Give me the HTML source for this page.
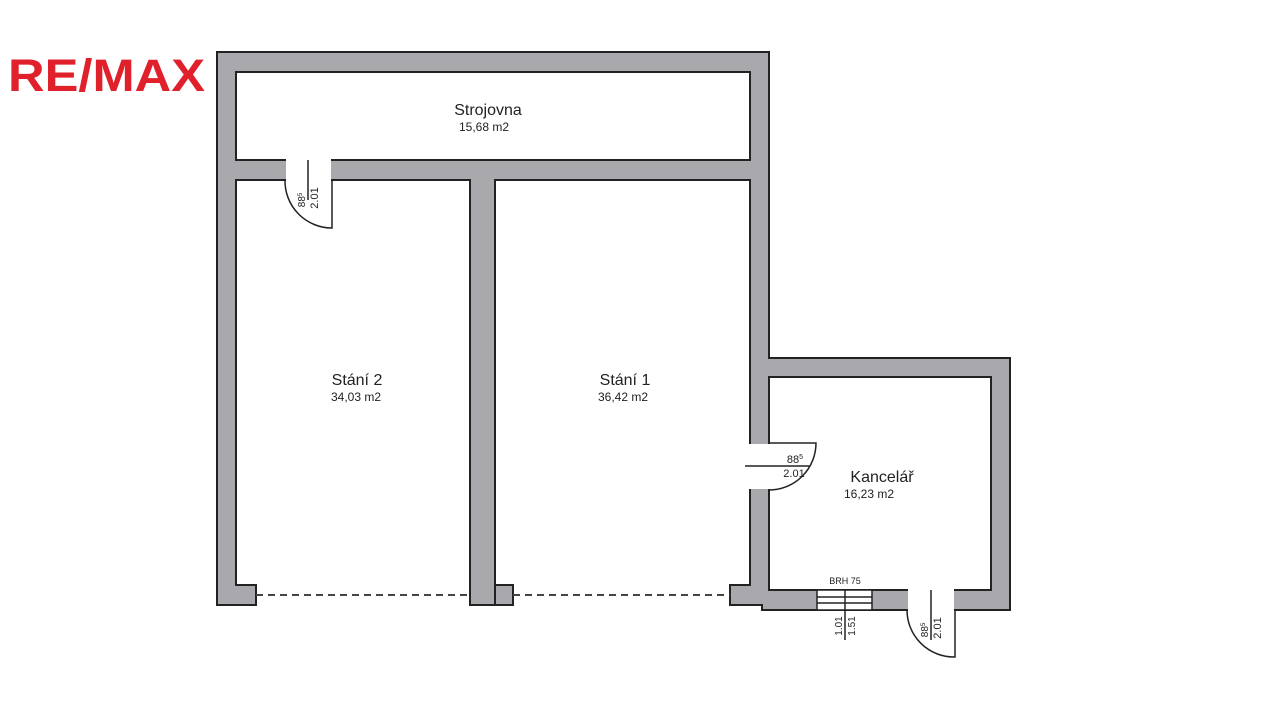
<!DOCTYPE html>
<html><head><meta charset="utf-8"><style>
body{margin:0;background:#fff;width:1280px;height:720px;overflow:hidden}
svg{position:absolute;left:0;top:0}
text{font-family:"Liberation Sans",sans-serif}
</style></head><body>
<svg width="1280" height="720" viewBox="0 0 1280 720">
<text x="8" y="91" font-size="45" font-weight="bold" fill="#e0202b" textLength="197" lengthAdjust="spacingAndGlyphs">RE/MAX</text>
<g stroke="#222" stroke-width="2">
<polygon points="217,52 769,52 769,358 1010,358 1010,610 762,610 762,605 217,605" fill="#a9a8ad"/>
<rect x="236" y="72" width="514" height="88" fill="#fff"/>
<polygon points="236,180 470,180 470,605 256,605 256,585 236,585" fill="#fff"/>
<polygon points="495,180 750,180 750,585 730,585 730,605 513,605 513,585 495,585" fill="#fff"/>
<rect x="769" y="377" width="222" height="213" fill="#fff"/>
</g>
<g fill="#fff">
<rect x="257" y="596" width="212" height="12"/>
<rect x="514" y="596" width="215" height="12"/>
<rect x="286" y="159" width="45" height="22"/>
<rect x="749" y="444" width="21" height="45"/>
<rect x="908" y="589" width="46" height="22"/>
</g>
<line x1="495" y1="585" x2="495" y2="605" stroke="#222" stroke-width="2"/>
<g stroke="#444" stroke-width="2" stroke-dasharray="7,5">
<line x1="256" y1="595" x2="470" y2="595"/>
<line x1="513" y1="595" x2="730" y2="595"/>
</g>
<g stroke="#222" stroke-width="1.5" fill="none">
<path d="M285,180 A47,47 0 0 0 332,228 L332,180"/>
<line x1="308" y1="160" x2="308" y2="200"/>
<path d="M769,443 L816,443 A47,47 0 0 1 769,490"/>
<line x1="745" y1="466" x2="810" y2="466"/>
<path d="M907,610 A47,47 0 0 0 955,657 L955,610"/>
<line x1="931" y1="590" x2="931" y2="640"/>
<rect x="817" y="590" width="55" height="20" fill="#fff"/>
<line x1="817" y1="597" x2="872" y2="597"/>
<line x1="817" y1="603" x2="872" y2="603"/>
<line x1="845" y1="590" x2="845" y2="640"/>
</g>
<g fill="#222">
<text x="488" y="115" font-size="16" text-anchor="middle">Strojovna</text>
<text x="484" y="131" font-size="12" text-anchor="middle">15,68 m2</text>
<text x="357" y="385" font-size="16" text-anchor="middle">Stání 2</text>
<text x="356" y="401" font-size="12" text-anchor="middle">34,03 m2</text>
<text x="625" y="385" font-size="16" text-anchor="middle">Stání 1</text>
<text x="623" y="401" font-size="12" text-anchor="middle">36,42 m2</text>
<text x="882" y="482" font-size="16" text-anchor="middle">Kancelář</text>
<text x="869" y="498" font-size="12" text-anchor="middle">16,23 m2</text>
<text x="845" y="584" font-size="9" text-anchor="middle">BRH 75</text>
<text x="795" y="463" font-size="11" text-anchor="middle">88<tspan font-size="7" dy="-4">5</tspan></text>
<text x="794" y="477" font-size="11" text-anchor="middle">2.01</text>
<text transform="translate(305,200) rotate(-90)" font-size="10" text-anchor="middle">88<tspan font-size="6" dy="-3">5</tspan></text>
<text transform="translate(318,198) rotate(-90)" font-size="11" text-anchor="middle">2.01</text>
<text transform="translate(928,630) rotate(-90)" font-size="10" text-anchor="middle">88<tspan font-size="6" dy="-3">5</tspan></text>
<text transform="translate(941,628) rotate(-90)" font-size="11" text-anchor="middle">2.01</text>
<text transform="translate(842,626) rotate(-90)" font-size="10" text-anchor="middle">1.01</text>
<text transform="translate(855,626) rotate(-90)" font-size="10" text-anchor="middle">1.51</text>
</g>
</svg>
</body></html>
